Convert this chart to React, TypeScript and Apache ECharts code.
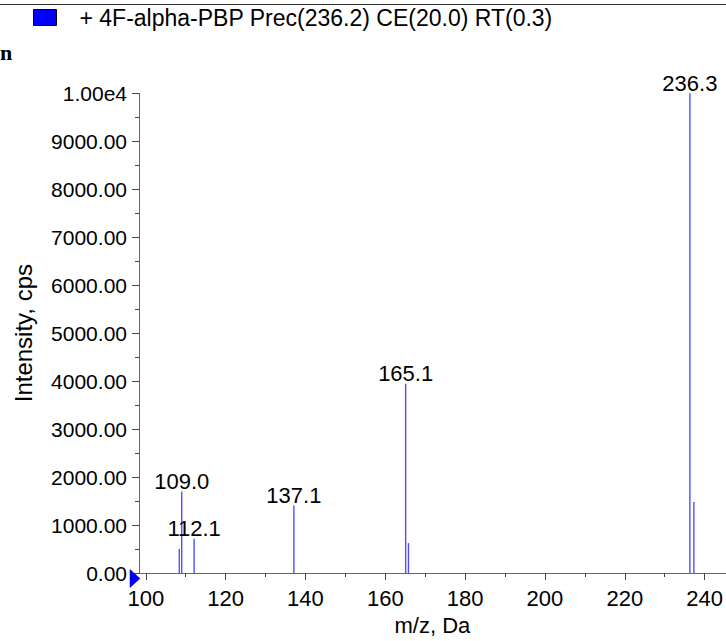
import React, { useEffect, useRef } from "react";
import * as echarts from "echarts";

const seriesName = "+ 4F-alpha-PBP Prec(236.2) CE(20.0) RT(0.3)";
const mzValues = [108.4, 109.0, 112.1, 137.1, 165.1, 165.8, 236.3, 237.3];
const intensities = [502, 1700, 714, 1408, 3945, 624, 10000, 1482];
const peakLabels = ["", "109.0", "112.1", "137.1", "165.1", "", "236.3", ""];
const xMajorTicks = [100, 120, 140, 160, 180, 200, 220, 240];
const xMinorTicks = [110, 130, 150, 170, 190, 210, 230];

const FONT = "'Liberation Sans', Arial, Helvetica, sans-serif";

export default function App() {
  const ref = useRef<HTMLDivElement>(null);
  useEffect(() => {
    if (!ref.current) return;
    const chart = echarts.init(ref.current, null, { renderer: "svg" });
    const data = mzValues.map((m, i) => [m, intensities[i]]);
    const option: any = {
      animation: false,
      backgroundColor: "#ffffff",
      textStyle: { fontFamily: FONT },
      grid: { left: 139, top: 93.3, width: 587, height: 490, containLabel: false },
      legend: {
        left: 33,
        top: 6,
        padding: 0,
        icon: "rect",
        itemWidth: 23,
        itemHeight: 16,
        selectedMode: false,
        data: [{ name: seriesName, itemStyle: { color: "#0000ff", borderColor: "#000", borderWidth: 1 } }],
        textStyle: { fontSize: 23, color: "#000", fontFamily: FONT, padding: [0, 0, 0, 18] },
      },
      xAxis: [
        {
          type: "value",
          min: 98.3,
          max: 245.3,
          name: "m/z, Da",
          nameLocation: "middle",
          nameGap: 41,
          nameTextStyle: { fontSize: 22, color: "#000", fontFamily: FONT },
          axisLine: { show: true, lineStyle: { color: "#666", width: 1 } },
          axisTick: { show: true, length: 7, customValues: xMajorTicks, lineStyle: { color: "#444" } },
          axisLabel: { show: true, customValues: xMajorTicks, fontSize: 22, color: "#000", margin: 14, fontFamily: FONT },
          splitLine: { show: false },
        },
        {
          type: "value",
          min: 98.3,
          max: 245.3,
          position: "bottom",
          axisLine: { show: false },
          axisTick: { show: true, length: 4, customValues: xMinorTicks, lineStyle: { color: "#444" } },
          axisLabel: { show: false, customValues: xMinorTicks },
          splitLine: { show: false },
        },
      ],
      yAxis: {
        type: "value",
        min: 0,
        max: 10000,
        interval: 1000,
        name: "Intensity, cps",
        nameLocation: "middle",
        nameGap: 104,
        nameTextStyle: { fontSize: 24, color: "#000", fontFamily: FONT },
        axisLine: { show: true, lineStyle: { color: "#666", width: 1 } },
        axisTick: { show: true, length: 7, lineStyle: { color: "#444" } },
        minorTick: { show: true, splitNumber: 2, length: 4, lineStyle: { color: "#444" } },
        axisLabel: {
          fontSize: 21,
          color: "#000",
          margin: 12,
          fontFamily: FONT,
          formatter: (v: number) => (v === 10000 ? "1.00e4" : v.toFixed(2)),
        },
        splitLine: { show: false },
        minorSplitLine: { show: false },
      },
      series: [
        {
          name: seriesName,
          type: "custom",
          xAxisIndex: 0,
          itemStyle: { color: "#0000ff" },
          data,
          renderItem: (params: any, api: any) => {
            const x = api.value(0);
            const y = api.value(1);
            const p0 = api.coord([x, 0]);
            const p1 = api.coord([x, y]);
            const children: any[] = [
              {
                type: "line",
                shape: { x1: p0[0], y1: p0[1], x2: p1[0], y2: p1[1] },
                style: { stroke: "#5050ff", lineWidth: 1.4 },
              },
            ];
            const lbl = peakLabels[params.dataIndex];
            if (lbl) {
              children.push({
                type: "text",
                x: p1[0],
                y: p1[1] + 1,
                style: {
                  text: lbl,
                  fill: "#000",
                  fontSize: 22,
                  fontFamily: FONT,
                  align: "center",
                  verticalAlign: "bottom",
                },
              });
            }
            return { type: "group", children };
          },
        },
      ],
      graphic: [
        {
          type: "line",
          shape: { x1: 0, y1: 4.5, x2: 726, y2: 4.5 },
          style: { stroke: "#333", lineWidth: 1 },
        },
        {
          type: "text",
          x: 0,
          y: 52,
          style: { text: "n", fontFamily: "'Liberation Serif', 'DejaVu Serif', serif", fontSize: 22, fontWeight: "bold", fill: "#000", verticalAlign: "middle" },
        },
        {
          type: "polygon",
          shape: { points: [[130, 569.5], [130, 587.5], [140, 578.5]] },
          style: { fill: "#0000ff", stroke: "#000080", lineWidth: 0.5 },
          z: 10,
        },
      ],
    };
    chart.setOption(option);
    return () => chart.dispose();
  }, []);
  return <div ref={ref} style={{ position: "absolute", left: 0, top: 0, width: 726, height: 641 }} />;
}
